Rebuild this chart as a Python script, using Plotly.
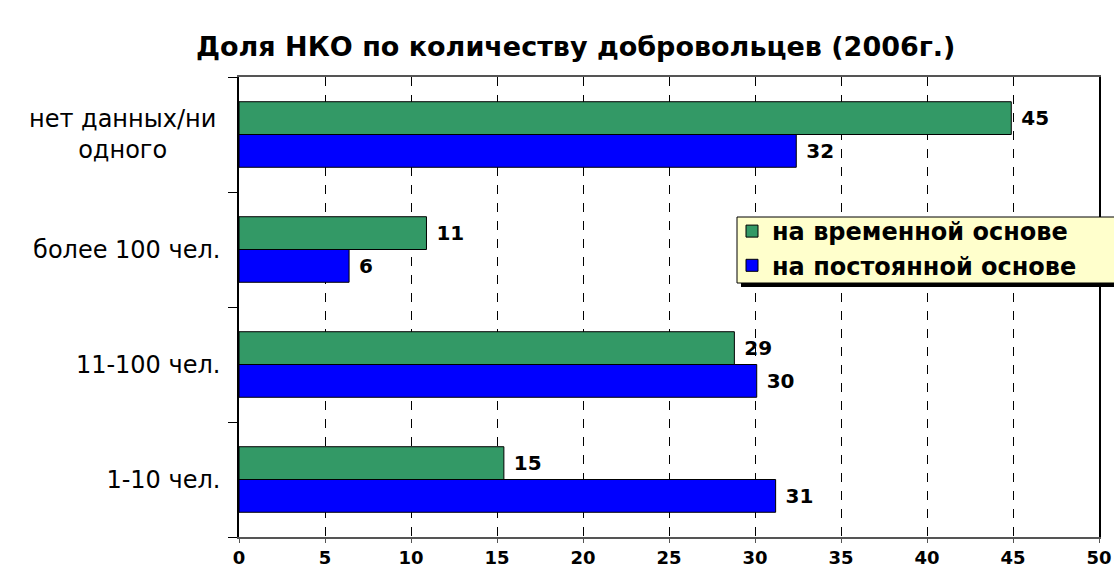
import plotly.graph_objects as go

categories = ["1-10 чел.", "11-100 чел.", "более 100 чел.", "нет данных/ни<br>одного"]
series_names = ["на временной основе", "на постоянной основе"]
temporary = [15.4, 28.8, 10.9, 44.9]
permanent = [31.2, 30.1, 6.4, 32.4]
x_ticks = [0, 5, 10, 15, 20, 25, 30, 35, 40, 45, 50]
title_text = "Доля НКО по количеству добровольцев (2006г.)"

GREEN = "#339966"
BLUE = "#0000FF"
FONT = "DejaVu Sans, Verdana, sans-serif"

L, R, T, B = 239, 15, 77, 35
W, H = 1114, 572
PW, PH = W - L - R, H - T - B


def px_x(x):
    return (x - L) / PW


def px_y(y):
    return 1 - (y - T) / PH


fig = go.Figure()
# blue first so it sits below green within each group
fig.add_trace(go.Bar(
    y=categories, x=permanent, orientation="h", name=series_names[1],
    marker=dict(color=BLUE, line=dict(color="black", width=1)),
    text=[f" {round(v)}" for v in permanent], textposition="outside",
    textfont=dict(family=FONT, size=20, color="black", weight="bold"),
    cliponaxis=False,
))
fig.add_trace(go.Bar(
    y=categories, x=temporary, orientation="h", name=series_names[0],
    marker=dict(color=GREEN, line=dict(color="black", width=1)),
    text=[f" {round(v)}" for v in temporary], textposition="outside",
    textfont=dict(family=FONT, size=20, color="black", weight="bold"),
    cliponaxis=False,
))

ticktext = [c if "<br>" not in c else "" for c in categories]

fig.update_layout(
    width=W, height=H,
    paper_bgcolor="white", plot_bgcolor="white",
    margin=dict(l=L, r=R, t=T, b=B, autoexpand=False),
    barmode="group", bargap=0.43, bargroupgap=0,
    font=dict(family=FONT, color="black"),
    showlegend=True,
    legend=dict(
        x=px_x(732), y=px_y(209), xanchor="left", yanchor="top",
        bgcolor="rgba(0,0,0,0)", borderwidth=0,
        font=dict(family=FONT, size=24, color="black", weight="bold"),
        traceorder="reversed", itemwidth=30, tracegroupgap=0,
    ),
)

fig.update_xaxes(
    range=[0, 50], tickvals=x_ticks, ticktext=[str(t) for t in x_ticks],
    showgrid=True, gridcolor="black", griddash="dash", gridwidth=1,
    zeroline=False, showline=True, linecolor="#555555", linewidth=1.5, mirror=True,
    ticks="outside", ticklen=4, tickcolor="#555555",
    tickfont=dict(family=FONT, size=18, color="black", weight="bold"),
    automargin=False,
)
fig.update_yaxes(
    categoryorder="array", categoryarray=categories,
    tickvals=categories, ticktext=ticktext,
    showline=True, linecolor="black", linewidth=1.5, mirror=True,
    ticks="outside", tickson="boundaries", ticklen=9, tickcolor="black",
    tickfont=dict(family=FONT, size=24, color="black"),
    ticklabelstandoff=12, showgrid=False, automargin=False,
)

# multi-line category label, centered
for c in categories:
    if "<br>" in c:
        fig.add_annotation(
            x=-21 / PW, xref="paper", y=c, yref="y", text=c, showarrow=False,
            xanchor="right", yanchor="middle", align="center",
            font=dict(family=FONT, size=24, color="black"),
        )

# title
fig.add_annotation(
    x=px_x(575), xref="paper", y=px_y(46), yref="paper", yanchor="middle",
    text=f"<b>{title_text}</b>", showarrow=False,
    font=dict(family=FONT, size=27, color="black"),
)

# legend shadow and box
fig.add_shape(
    type="rect", xref="paper", yref="paper",
    x0=px_x(741), x1=px_x(1130), y0=px_y(287), y1=px_y(221),
    fillcolor="black", line=dict(width=0), layer="above",
)
fig.add_shape(
    type="rect", xref="paper", yref="paper",
    x0=px_x(737), x1=px_x(1126), y0=px_y(283), y1=px_y(217),
    fillcolor="#FFFFCC", line=dict(color="black", width=1), layer="above",
)

fig.write_html("out.html", config={"displayModeBar": False},
               post_script="document.body.style.margin='0';")
